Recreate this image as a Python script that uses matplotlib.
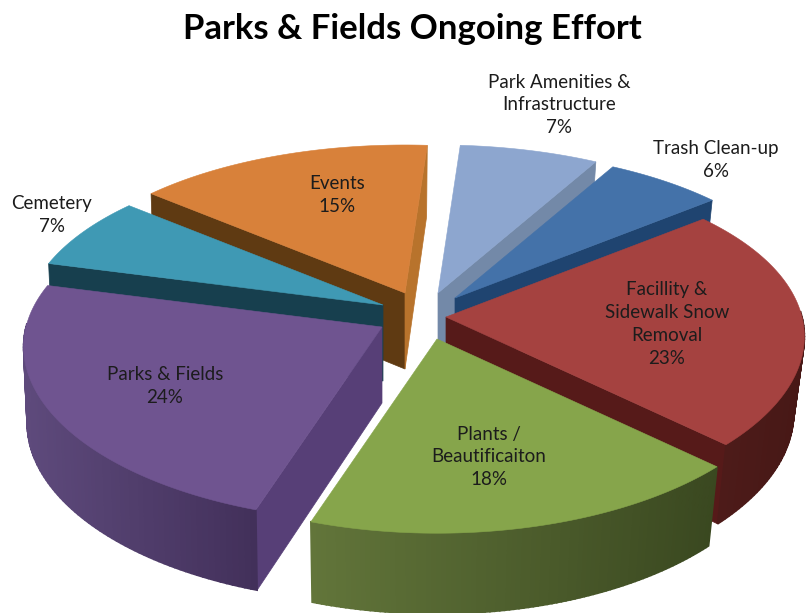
# -*- coding: utf-8 -*-
"""
Exploded 3D-style pie: Parks & Fields Ongoing Effort
"""
import numpy as np
import matplotlib
matplotlib.use('Agg')
import matplotlib.pyplot as plt
from matplotlib.colors import to_rgb

plt.rcParams['font.family'] = ['Lato', 'DejaVu Sans']

categories = ['Park Amenities &\nInfrastructure', 'Trash Clean-up',
              'Facillity &\nSidewalk Snow\nRemoval', 'Plants /\nBeautificaiton',
              'Parks & Fields', 'Cemetery', 'Events']
values = [7, 6, 23, 18, 24, 7, 15]

# colours: top face, cut face, rim light side, rim dark side
top_cols = ['#8DA6CF', '#4472A9', '#A54240', '#86A54B', '#6F5490', '#3F99B4', '#D8813A']
cut_cols = ['#7389A8', '#1F4470', '#561A19', '#3A4A1F', '#573F77', '#173F4E', '#5F3A12']
rim_light = ['#7389A8', '#2F5077', '#4F1C1A', '#62753A', '#5E4A7C', '#1F5366', '#8F5B24']
rim_dark = ['#6A7F9C', '#264266', '#471816', '#3A4820', '#42305A', '#173F4E', '#6B4018']
thin_cut = '#B8732C'  # small sliver on the right of Events

# where the point of each slice ends up after exploding (pixels)
apex = [(438, 293), (455, 298), (446, 317), (437, 339), (382, 327), (383, 305), (405, 293)]
label_xy = [(559, 105), (716, 160), (667, 324), (489, 457), (165, 386), (52, 215), (337, 195)]

start = 4.0     # degrees clockwise from north
Rx, Ry = 356., 168.
persp_x, persp_y = 0.115, 0.135
depth = 76.
shrink_r, shrink_l = 0.97, 0.99   # lower rim sits a little further from the eye


def rim(th, a):
    """Screen position of the disc rim at angle th for a slice with point a"""
    c, s = np.cos(th), np.sin(th)
    return a[0] + Rx*s/(1 + persp_x*c), a[1] - Ry*c/(1 + persp_y*c)


def drop(th):
    return depth*(1 - 0.06*np.cos(th))


def mix(c1, c2, t):
    c1, c2 = np.array(to_rgb(c1)), np.array(to_rgb(c2))
    return tuple(c1 + (c2-c1)*t)


fig = plt.figure(figsize=(8.06, 6.13), dpi=100)
ax = fig.add_axes([0, 0, 1, 1])
ax.set_xlim(0, 806)
ax.set_ylim(613, 0)
ax.axis('off')

edges = start + 360*np.cumsum([0] + values)/sum(values)
mids = np.radians((edges[:-1] + edges[1:])/2)

# back slices first so the front ones cover them
for i in np.argsort(-np.cos(mids)):
    a = apex[i]
    t1, t2 = np.radians(edges[i]), np.radians(edges[i+1])
    th = np.linspace(t1, t2, 90)
    x, y = rim(th, a)
    xb = a[0] + (x - a[0])*np.where(x > a[0], shrink_r, shrink_l)
    yb = y + drop(th)
    z = 10*(2 - np.cos(mids[i]))

    # cut faces
    if np.sin(t1) < 0:
        ax.fill([a[0], x[0], xb[0], a[0]], [a[1], y[0], yb[0], a[1]+depth],
                color=cut_cols[i], lw=0.5, zorder=z)
    if np.sin(t2) > 0:
        col = thin_cut if i == 6 else cut_cols[i]
        ax.fill([a[0], x[-1], xb[-1], a[0]], [a[1], y[-1], yb[-1], a[1]+depth],
                color=col, lw=0.5, zorder=z)

    # outer wall, one thin strip at a time for the shading
    xmin, xmax = x.min(), x.max()
    for k in range(len(th)-1):
        if np.cos(th[k]) > 0.02 and np.cos(th[k+1]) > 0.02:
            continue
        t = ((x[k]+x[k+1])/2 - xmin)/max(xmax-xmin, 1)
        ax.fill([x[k], x[k+1], xb[k+1], xb[k]], [y[k], y[k+1], yb[k+1], yb[k]],
                color=mix(rim_light[i], rim_dark[i], t), lw=1.2, zorder=z+1)

    # top face
    ax.fill(np.r_[a[0], x], np.r_[a[1], y], color=top_cols[i], lw=0.4, zorder=z+2)

    pct = '%d%%' % values[i]
    ax.text(label_xy[i][0], label_xy[i][1], categories[i] + '\n' + pct, ha='center', va='center',
            fontsize=13.5, color='#1c1c1c', linespacing=1.42, zorder=100)

ax.text(412, 29, 'Parks & Fields Ongoing Effort', ha='center', va='center',
        fontsize=25, fontweight='bold', color='black')

fig.savefig('out.png', dpi=100)
